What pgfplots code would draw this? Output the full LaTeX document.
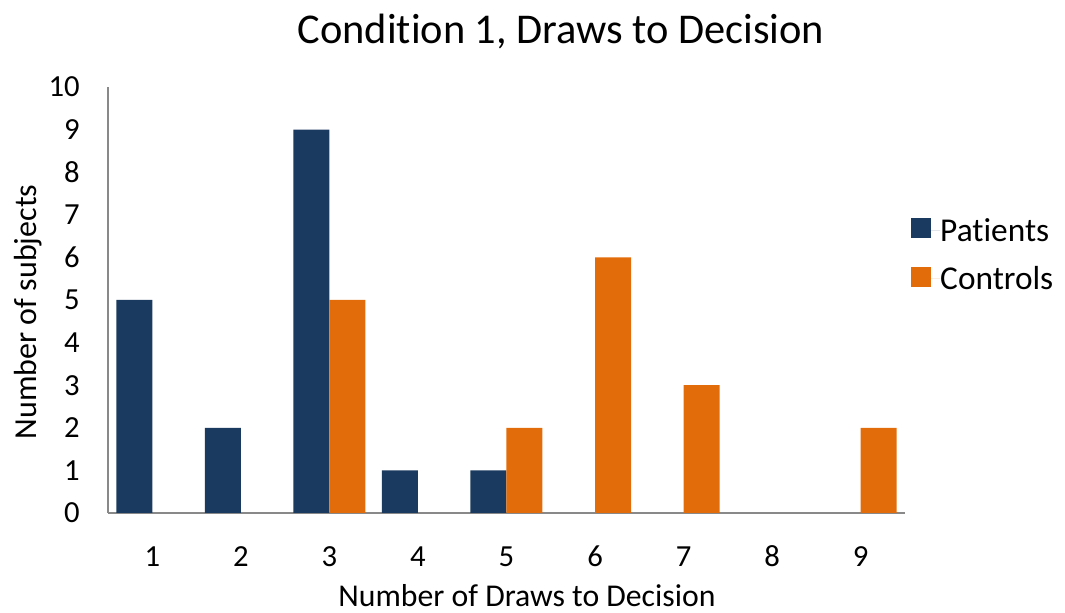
\documentclass[border=0pt]{standalone}
\usepackage{fontspec}
\setmainfont{Carlito}[Ligatures={NoCommon}]
\usepackage{pgfplots}
\pgfplotsset{compat=1.18}
\definecolor{navy}{HTML}{1B3A5F}
\definecolor{orng}{HTML}{E36C0A}
\definecolor{axgray}{HTML}{898989}
\begin{document}
\begin{tikzpicture}
\useasboundingbox (-81pt,-75pt) rectangle (717.75pt,384.75pt);
\begin{axis}[
  at={(0,0)}, anchor=south west,
  scale only axis, width=597.75pt, height=319.5pt,
  xmin=0.5, xmax=9.5, ymin=0, ymax=10,
  ybar=0pt, bar width=27pt,
  axis x line=bottom, axis y line=left,
  axis line style={axgray, line width=1pt, -},
  major tick length=0pt,
  xtick={1,...,9}, ytick={0,...,10},
  /pgf/number format/assume math mode=true,
  tick label style={font=\fontsize{23}{27}\selectfont},
  xticklabel style={anchor=base, inner sep=0pt, yshift=-40.5pt},
  yticklabel style={anchor=east, inner sep=0pt, xshift=-21pt},
  legend style={draw=none, fill=none, at={(1.0075,0.692)}, anchor=north west,
    font=\fontsize{25}{30}\selectfont, inner sep=0pt, row sep=19.25pt,
    nodes={inner sep=0pt, text height=16pt, text depth=0pt},
    legend cell align=left},
  legend image code/.code={\fill[#1,draw=none] (0pt,-6pt) rectangle (15pt,9pt);
    \path (0pt,0pt) -- (21.75pt,0pt);},
]
% zero counts are left out: they draw no bar
\addplot[fill=navy, draw=none] coordinates {
  (1,5) (2,2) (3,9) (4,1) (5,1)
};
\addplot[fill=orng, draw=none] coordinates {
  (3,5) (5,2) (6,6) (7,3) (9,2)
};
\legend{Patients, Controls}
\end{axis}
\node[anchor=base, font=\fontsize{31.8}{38}\selectfont] at (339.75pt,351.75pt) {Condition 1, Draws to Decision};
\node[anchor=base, font=\fontsize{23.8}{28}\selectfont] at (314.25pt,-70.5pt) {Number of Draws to Decision};
\node[rotate=90, anchor=center, font=\fontsize{24}{28}\selectfont] at (-60pt,150.75pt) {Number of subjects};
\end{tikzpicture}
\end{document}
